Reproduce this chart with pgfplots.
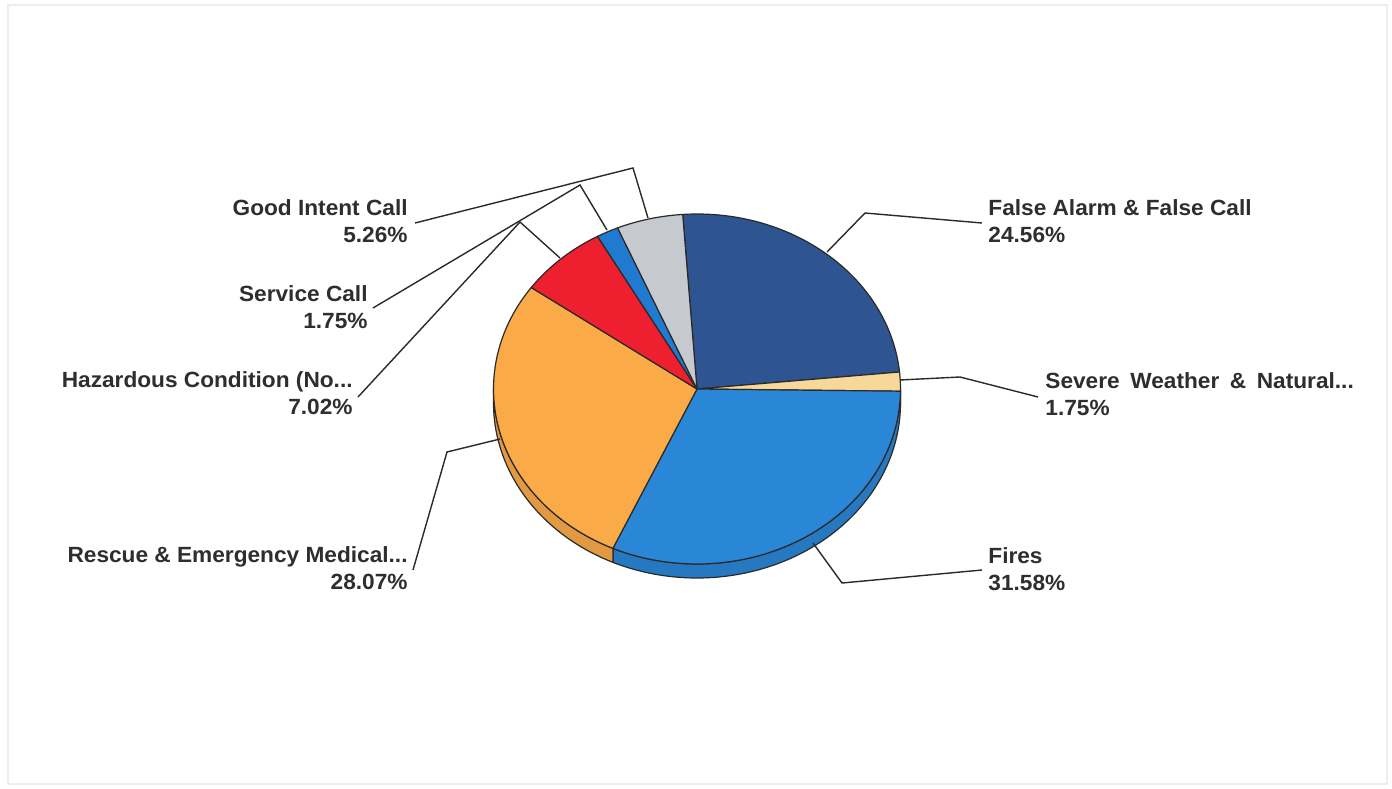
\documentclass[border=0pt]{standalone}
\usepackage{pgfplots}
\pgfplotsset{compat=1.18}
\usepackage{pgfplotstable}
\usepackage{fontspec}
\setmainfont{Liberation Sans}[FakeStretch=1.03]

\definecolor{cFA}{HTML}{2E5592}
\definecolor{cSW}{HTML}{F8D898}
\definecolor{cFI}{HTML}{2A86D6}
\definecolor{cRE}{HTML}{FBAA48}
\definecolor{cHZ}{HTML}{EE1F2E}
\definecolor{cSC}{HTML}{1F7AD0}
\definecolor{cGI}{HTML}{C6C9CE}
\definecolor{txt}{HTML}{2E2E2E}
\definecolor{edge}{HTML}{2A2A2A}

\tikzset{lab/.style={inner sep=0pt, text=txt, font=\fontsize{11}{13.5}\selectfont\bfseries}}

% share of each category, in the order drawn clockwise from the top
\pgfplotstableread{
pct col
24.56 cFA
1.75 cSW
31.58 cFI
28.07 cRE
7.02 cHZ
1.75 cSC
5.26 cGI
}\piedata

\begin{document}
\begin{tikzpicture}
\begin{axis}[
  scale only axis, width=696pt, height=394pt,
  xmin=0, xmax=1392, ymin=0, ymax=788, y dir=reverse,
  hide axis, clip=false,
]
\fill[white] (axis cs:0,0) rectangle (axis cs:1392,788);
\draw[black!7, line width=1pt] (axis cs:8,5) rectangle (axis cs:1387,784);

\pgfplotsextra{
  % sides (visible lower half)
  \xdef\angcur{94}
  \foreach \i in {0,...,6}{
    \pgfplotstablegetelem{\i}{pct}\of\piedata \pgfmathsetmacro\pv{\pgfplotsretval}
    \pgfplotstablegetelem{\i}{col}\of\piedata \edef\sc{\pgfplotsretval}
    \pgfmathsetmacro\angnext{\angcur-3.6*\pv}
    \pgfmathsetmacro\sa{min(\angcur,0)}
    \pgfmathsetmacro\sb{max(\angnext,-180)}
    \pgfmathtruncatemacro\doside{\sa>\sb}
    \ifnum\doside=1
      \filldraw[fill=\sc!90!black, draw=edge, line width=0.6pt]
        (axis cs:697,389) ++(\sa:101.75pt and 87.5pt)
        arc[start angle=\sa, end angle=\sb, x radius=101.75pt, y radius=87.5pt]
        -- ++(0,-7pt)
        arc[start angle=\sb, end angle=\sa, x radius=101.75pt, y radius=87.5pt]
        -- cycle;
    \fi
    \xdef\angcur{\angnext}
  }
  % top faces
  \xdef\angcur{94}
  \foreach \i in {0,...,6}{
    \pgfplotstablegetelem{\i}{pct}\of\piedata \pgfmathsetmacro\pv{\pgfplotsretval}
    \pgfplotstablegetelem{\i}{col}\of\piedata \edef\sc{\pgfplotsretval}
    \pgfmathsetmacro\angnext{\angcur-3.6*\pv}
    \filldraw[fill=\sc, draw=edge, line width=0.6pt, line join=round]
      (axis cs:697,389) -- ++(\angcur:101.75pt and 87.5pt)
      arc[start angle=\angcur, end angle=\angnext, x radius=101.75pt, y radius=87.5pt]
      -- cycle;
    \xdef\angcur{\angnext}
  }
}

% leader lines
\draw[edge, line width=0.7pt] (axis cs:415,223) -- (axis cs:633,168) -- (axis cs:648,218);
\draw[edge, line width=0.7pt] (axis cs:373,308) -- (axis cs:580,185) -- (axis cs:607,230);
\draw[edge, line width=0.7pt] (axis cs:358,397) -- (axis cs:520,222) -- (axis cs:560,258);
\draw[edge, line width=0.7pt] (axis cs:413,570) -- (axis cs:447,452) -- (axis cs:500,439);
\draw[edge, line width=0.7pt] (axis cs:827,252) -- (axis cs:865,213) -- (axis cs:982,223);
\draw[edge, line width=0.7pt] (axis cs:900,380) -- (axis cs:960,377) -- (axis cs:1038,397);
\draw[edge, line width=0.7pt] (axis cs:813,543) -- (axis cs:842,583) -- (axis cs:982,570);

% labels (anchor = baseline of the last line)
\node[lab, anchor=base east, align=right] at (axis cs:408,242) {Good Intent Call\\5.26\%};
\node[lab, anchor=base east, align=right] at (axis cs:368,328) {Service Call\\1.75\%};
\node[lab, anchor=base east, align=right] at (axis cs:353,414) {Hazardous Condition (No...\\7.02\%};
\node[lab, anchor=base east, align=right] at (axis cs:408,589) {Rescue \& Emergency Medical...\\28.07\%};
\node[lab, anchor=base west, align=left] at (axis cs:988,242) {False Alarm \& False Call\\24.56\%};
\node[lab, anchor=base west, align=left] at (axis cs:1045,415) {Severe\hspace{5.3pt}Weather\hspace{5.3pt}\&\hspace{5.3pt}Natural...\\1.75\%};
\node[lab, anchor=base west, align=left] at (axis cs:988,590) {Fires\\31.58\%};
\end{axis}
\end{tikzpicture}
\end{document}
